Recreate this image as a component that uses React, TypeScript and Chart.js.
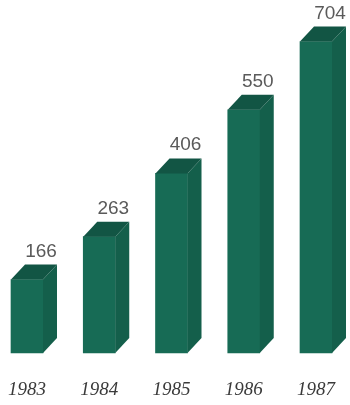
import React, { useEffect, useRef } from "react";
import { Chart, registerables } from "chart.js";

Chart.register(...registerables);

const years = ["1983", "1984", "1985", "1986", "1987"];
const values = [166, 263, 406, 550, 704];

const DX = 14;
const DY = 15;

const bar3d = {
  id: "bar3d",
  afterDatasetsDraw(chart: any) {
    const ctx = chart.ctx;
    const meta = chart.getDatasetMeta(0);
    ctx.save();
    meta.data.forEach((el: any, i: number) => {
      const { x, y, base, width } = el.getProps(["x", "y", "base", "width"], true);
      const l = x - width / 2;
      const r = x + width / 2;
      // side face
      ctx.fillStyle = "#145f4b";
      ctx.beginPath();
      ctx.moveTo(r, y);
      ctx.lineTo(r + DX, y - DY);
      ctx.lineTo(r + DX, base - DY);
      ctx.lineTo(r, base);
      ctx.closePath();
      ctx.fill();
      // top face
      ctx.fillStyle = "#125544";
      ctx.beginPath();
      ctx.moveTo(l, y);
      ctx.lineTo(l + DX, y - DY);
      ctx.lineTo(r + DX, y - DY);
      ctx.lineTo(r, y);
      ctx.closePath();
      ctx.fill();
      // value label
      ctx.fillStyle = "#5a5a5a";
      ctx.font = "19px 'Liberation Sans', Arial, sans-serif";
      ctx.textAlign = "center";
      ctx.textBaseline = "alphabetic";
      ctx.fillText(String(values[i]), x + DX, y - DY - 8);
    });
    ctx.restore();
  },
};

export default function App() {
  const ref = useRef<HTMLCanvasElement>(null);
  useEffect(() => {
    document.body.style.margin = "0";
    const chart = new Chart(ref.current!, {
      type: "bar",
      data: {
        labels: years,
        datasets: [
          {
            data: values,
            backgroundColor: "#176b55",
            borderWidth: 0,
            barThickness: 32,
            clip: false as any,
          },
        ],
      },
      options: {
        animation: false,
        responsive: false,
        layout: { padding: { left: 27, right: 34, top: 8, bottom: 5 } },
        plugins: { legend: { display: false }, tooltip: { enabled: false } },
        scales: {
          x: {
            offset: false,
            grid: { display: false, drawTicks: false },
            border: { display: false },
            ticks: {
              padding: 26,
              maxRotation: 0,
              autoSkip: false,
              color: "#3a3a3a",
              font: { family: "'Liberation Serif', 'DejaVu Serif', serif", size: 19, style: "italic" },
            },
            afterFit: (scale: any) => {
              scale.paddingLeft = 0;
              scale.paddingRight = 0;
              scale.height = 47;
            },
          },
          y: { display: false, min: 0, max: 780 },
        },
      },
      plugins: [bar3d],
    });
    return () => chart.destroy();
  }, []);
  return (
    <div style={{ width: 350, height: 405 }}>
      <canvas ref={ref} width={350} height={405} />
    </div>
  );
}
